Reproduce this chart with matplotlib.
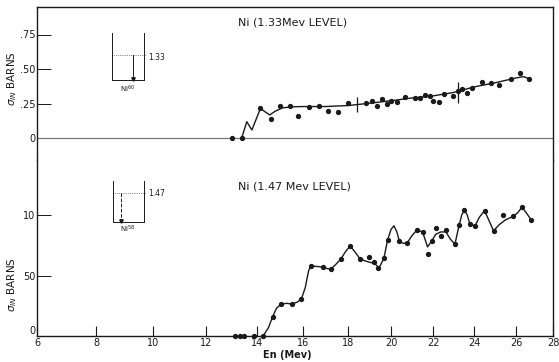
import numpy as np
import matplotlib
matplotlib.use("Agg")
import matplotlib.pyplot as plt
from matplotlib.lines import Line2D

# energy axis of the old figure is not linear - follow where its ticks sit
tick_e = [6, 8, 10, 12, 14, 16, 18, 20, 22, 24, 26, 28]
tick_pos = [37, 96, 153, 206, 257, 303, 348, 391, 433, 474, 516, 553]

# Ni 1.33 Mev level
e1_pts = [13.0, 13.4, 14.15, 14.6, 15.0, 15.45, 15.8, 16.26, 16.72, 17.1, 17.57, 18.0,
          18.86, 19.1, 19.35, 19.6, 19.8, 20.0, 20.27, 20.67, 21.15, 21.4, 21.6, 21.84,
          22.0, 22.29, 22.53, 22.99, 23.2, 23.43, 23.67, 23.9, 24.4, 24.8, 25.2, 25.75,
          26.2, 26.7]
s1_pts = [0, 0, .215, .135, .232, .234, .159, .225, .232, .198, .191, .251,
          .251, .27, .234, .28, .244, .27, .258, .295, .292, .288, .309, .304,
          .27, .258, .317, .304, .34, .353, .324, .365, .406, .40, .384, .428,
          .473, .428]
e1_fit = [13.4, 13.6, 13.8, 14.15, 14.35, 14.55, 14.8, 15.1, 15.5, 16.0, 17.0, 18.0,
          19.0, 20.0, 21.0, 22.0, 23.0, 24.0, 25.0, 26.0, 26.4, 26.7]
s1_fit = [0, .118, .058, .215, .19, .167, .195, .218, .226, .228, .228, .235,
          .252, .27, .29, .305, .33, .37, .40, .435, .445, .43]
e1_err = [18.4, 23.2]
s1_err = [.246, .33]
d1_err = [.054, .078]

# Ni 1.47 Mev level
e2_pts = [13.14, 13.33, 13.5, 13.9, 14.27, 14.68, 15.06, 15.5, 15.93, 16.35, 16.87, 17.25,
          17.67, 18.1, 18.55, 18.98, 19.22, 19.4, 19.67, 19.84, 20.4, 20.78, 21.23, 21.5,
          21.74, 21.94, 22.13, 22.38, 22.63, 23.07, 23.28, 23.53, 23.8, 24.05, 24.5, 24.93,
          25.38, 25.87, 26.32, 26.81]
s2_pts = [0, 0, 0, 0, 0, .16, .264, .264, .306, .578, .57, .556,
          .633, .744, .633, .653, .611, .564, .642, .792, .781, .772, .875, .861,
          .675, .786, .892, .828, .878, .758, .917, 1.04, .925, .911, 1.036, .869,
          1.003, .989, 1.064, .961]
e2_fit = [14.27, 14.5, 14.68, 14.85, 15.06, 15.3, 15.5, 15.75, 15.93, 16.1, 16.25, 16.35,
          16.6, 16.87, 17.1, 17.25, 17.45, 17.67, 17.9, 18.1, 18.3, 18.55, 18.8, 19.0,
          19.22, 19.45, 19.67, 19.84, 20.0, 20.14, 20.28, 20.4, 20.6, 20.78, 21.0, 21.23,
          21.5, 21.62, 21.74, 21.94, 22.13, 22.38, 22.63, 22.85, 23.07, 23.2, 23.28, 23.4,
          23.53, 23.67, 23.8, 24.05, 24.25, 24.5, 24.7, 24.93, 25.2, 25.5, 25.87, 26.1,
          26.32, 26.55, 26.81]
s2_fit = [0, .07, .16, .23, .264, .27, .264, .28, .306, .40, .54, .578,
          .575, .57, .556, .556, .59, .633, .70, .744, .70, .64, .62, .61,
          .60, .565, .642, .792, .88, .911, .86, .781, .765, .772, .83, .875,
          .861, .80, .736, .786, .84, .86, .86, .80, .758, .86, .917, 1.0,
          1.04, 1.0, .925, .911, .98, 1.036, .96, .869, .92, .96, .989, 1.02,
          1.064, 1.02, .961]


def fwd(x):
    return np.interp(x, tick_e, tick_pos)


def inv(p):
    return np.interp(p, tick_pos, tick_e)


ink = '#1a1a1a'
W, H = 559, 362
fig = plt.figure(figsize=(W / 100, H / 100), dpi=100, facecolor='w')

ax1 = fig.add_axes([37 / W, 1 - 160 / H, 516 / W, 153 / H])
ax2 = fig.add_axes([37 / W, 1 - 336 / H, 516 / W, 176 / H])

for ax in (ax1, ax2):
    ax.set_xscale('function', functions=(fwd, inv))
    ax.set_xlim(6, 28)
    for s in ax.spines.values():
        s.set_color(ink)
        s.set_linewidth(1.0)

# top panel
ax1.set_ylim(-22 / 138, 131 / 138)
ax1.spines['bottom'].set_visible(False)
ax1.axhline(0, color='#777777', lw=0.9)
ax1.plot(e1_fit, s1_fit, '-', color=ink, lw=1.0)
ax1.plot(e1_pts, s1_pts, 'o', color=ink, ms=2.8, clip_on=False)
ax1.errorbar(e1_err, s1_err, yerr=d1_err, fmt='none', ecolor=ink, elinewidth=0.9, capsize=0)
ax1.set_xticks([])
ax1.set_yticks([0, .25, .50, .75])
ax1.set_yticklabels(['0', '.25', '.50', '.75'])
ax1.tick_params(axis='y', direction='in', length=10, width=0.7, labelsize=7, pad=1, colors=ink)
ax1.text(0.39, 0.88, 'Ni (1.33Mev LEVEL)', transform=ax1.transAxes, fontsize=8, color=ink)

# bottom panel
ax2.set_ylim(0, 176 / 121)
ax2.spines['top'].set_visible(False)
ax2.plot(e2_fit, s2_fit, '-', color=ink, lw=1.0)
ax2.plot(e2_pts, s2_pts, 'o', color=ink, ms=2.8, clip_on=False)
ax2.set_xticks(tick_e)
ax2.set_xticklabels([str(t) for t in tick_e])
ax2.set_yticks([0, .5, 1.0])
ax2.set_yticklabels(['0', '50', '10'])
ax2.get_yticklabels()[0].set_va('bottom')
ax2.tick_params(axis='y', direction='in', length=10, width=0.7, labelsize=7, pad=1, colors=ink)
ax2.tick_params(axis='x', direction='in', length=7, width=0.8, labelsize=7, pad=1.5, colors=ink)
ax2.text(0.39, 0.83, 'Ni (1.47 Mev LEVEL)', transform=ax2.transAxes, fontsize=8, color=ink)

fig.text(287 / W, 1 - 355 / H, 'En (Mev)', ha='center', va='center', fontsize=7,
         fontweight='bold', color=ink)
fig.text(12 / W, 1 - 79 / H, r'$\sigma_{IN}$ BARNS', rotation=90, ha='center', va='center',
         fontsize=7.5, color=ink)
fig.text(12 / W, 1 - 285 / H, r'$\sigma_{IN}$ BARNS', rotation=90, ha='center', va='center',
         fontsize=7.5, color=ink)


# little level diagrams
def seg(x0, y0, x1, y1, **kw):
    fig.add_artist(Line2D([x0 / W, x1 / W], [1 - y0 / H, 1 - y1 / H],
                          transform=fig.transFigure, color=ink, lw=kw.get('lw', 0.7),
                          ls=kw.get('ls', '-')))


seg(112, 33, 112, 80)
seg(144, 33, 144, 80)
seg(112, 80, 144, 80)
seg(112, 55, 146, 55, lw=0.5, ls=':')
seg(133, 55, 133, 79)
fig.add_artist(Line2D([133 / W], [1 - 79 / H], marker='v', ms=2.5, color=ink,
                      transform=fig.transFigure))
fig.text(148 / W, 1 - 57 / H, '1.33', fontsize=5.5, va='center', color=ink)
fig.text(128 / W, 1 - 89 / H, r'Ni$^{60}$', fontsize=5, ha='center', va='center', color=ink)

seg(113, 181, 113, 222)
seg(144, 181, 144, 222)
seg(113, 222, 144, 222)
seg(113, 193, 146, 193, lw=0.5, ls=':')
seg(121, 193, 121, 221, ls='--')
fig.add_artist(Line2D([121 / W], [1 - 221 / H], marker='v', ms=2.5, color=ink,
                      transform=fig.transFigure))
fig.text(148 / W, 1 - 193 / H, '1.47', fontsize=5.5, va='center', color=ink)
fig.text(128 / W, 1 - 229 / H, r'Ni$^{58}$', fontsize=5, ha='center', va='center', color=ink)

plt.savefig('out.png', dpi=100, facecolor='w')
